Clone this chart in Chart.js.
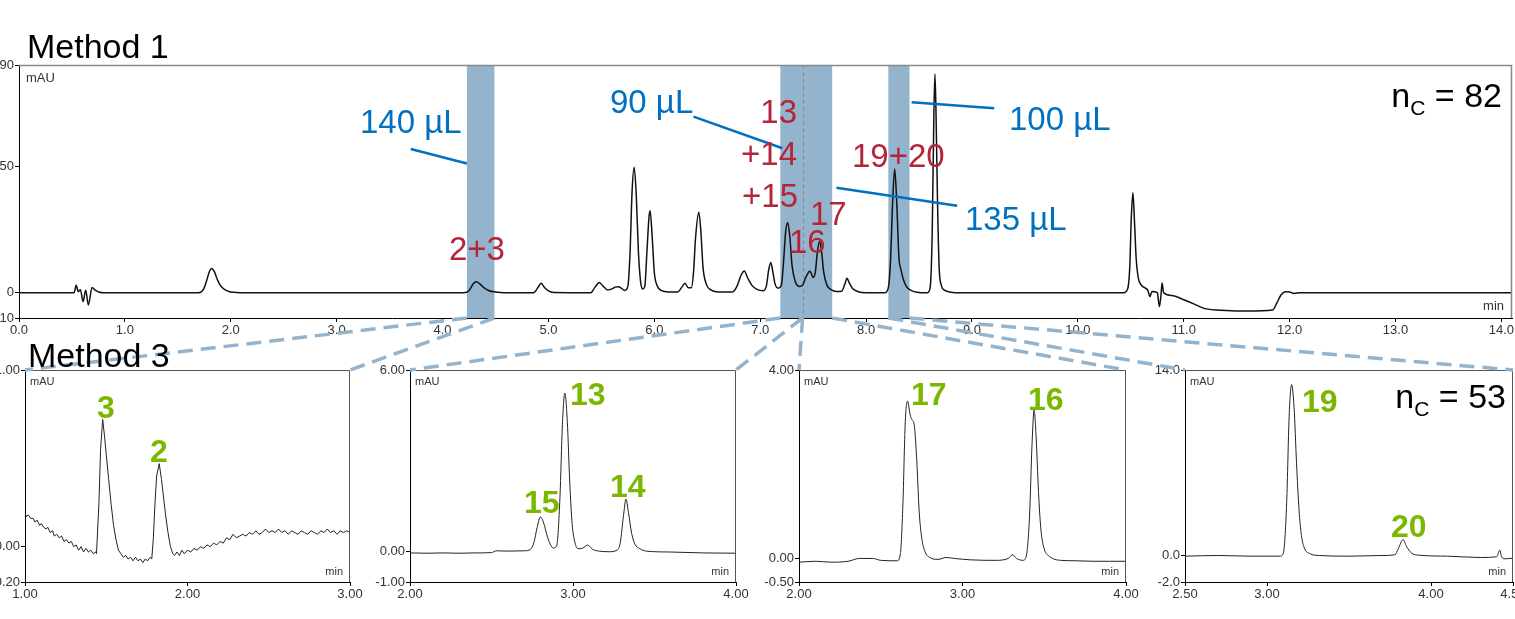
<!DOCTYPE html>
<html><head><meta charset="utf-8">
<script src="https://cdn.jsdelivr.net/npm/chart.js@4.4.1/dist/chart.umd.min.js"></script>
<style>
html,body{margin:0;padding:0;background:#fff;}
body{width:1515px;height:619px;overflow:hidden;position:relative;font-family:"Liberation Sans",Arial,sans-serif;}
.t{position:absolute;white-space:nowrap;line-height:1;z-index:10;}
#overlay{position:absolute;left:0;top:0;z-index:5;pointer-events:none;}
</style></head><body>
<canvas id="overlay" width="1515" height="619"></canvas>
<script>
// ---------------- DATA ----------------
// Method 1 chromatogram: [time (min), signal (mAU)]
const method1Trace = [
 [0,0],[0.52,0],[0.54,2.9],[0.56,0.4],[0.58,1.2],[0.605,-3.5],[0.63,1],[0.655,-4.9],[0.69,2.1],[0.72,1],[0.76,0.2],[0.8,0],
 [1.7,0],[1.74,1.2],[1.77,4.5],[1.8,8.6],[1.82,9.6],[1.845,8.3],[1.87,5.5],[1.9,3],[1.94,1.3],[1.99,0.4],[2.05,0.1],[2.15,0],
 [4.2,0],[4.25,0.8],[4.29,3.5],[4.32,4.3],[4.35,3.6],[4.39,2],[4.44,0.8],[4.5,0.3],[4.58,0],
 [4.86,0],[4.9,2],[4.93,3.7],[4.96,2.2],[5.0,0.7],[5.05,0.1],
 [5.4,0],[5.44,2.2],[5.48,4],[5.52,2.4],[5.56,1.1],[5.6,1.5],[5.63,2.2],[5.66,2.4],[5.69,1.7],[5.72,0.9],
 [5.75,2.5],[5.77,15],[5.79,40],[5.81,49.6],[5.83,38],[5.85,16],[5.87,4.5],[5.89,1.5],[5.91,2.5],[5.93,16],[5.95,30],[5.96,32.4],[5.98,22],[6.0,8],[6.03,2.5],[6.07,0.8],[6.13,0.3],
 [6.22,0.3],[6.26,2.2],[6.29,3.7],[6.32,2],[6.35,2],[6.37,8],[6.39,22],[6.42,31.8],[6.44,24],[6.46,10],[6.49,3.5],[6.53,1.2],[6.6,0.3],
 [6.74,0.3],[6.78,2.5],[6.82,7],[6.85,8.6],[6.88,6],[6.92,3],[6.97,1.3],[7.03,0.8],[7.06,3],[7.08,9],[7.1,11.9],[7.12,8],[7.14,3.5],[7.17,1.8],
 [7.2,3],[7.22,12],[7.24,24],[7.26,27.7],[7.28,22],[7.3,11],[7.33,4.5],[7.37,2.5],[7.4,3],[7.43,6],[7.46,8.3],[7.47,8.5],[7.5,6],[7.52,8],[7.54,16],[7.56,20.2],[7.58,16],[7.6,8],[7.63,3],[7.67,1.2],[7.72,0.5],
 [7.77,0.6],[7.8,3.5],[7.82,5.7],[7.84,4],[7.87,1.8],[7.92,0.5],[8.0,0],
 [8.18,0],[8.21,2],[8.23,12],[8.25,35],[8.27,48.9],[8.29,35],[8.31,14],[8.33,9],[8.35,5.5],[8.38,2.5],[8.42,1],[8.48,0.2],
 [8.58,0],[8.605,2],[8.625,25],[8.64,70],[8.65,86.4],[8.66,72],[8.675,35],[8.69,10],[8.71,3],[8.74,1],[8.8,0.2],[8.9,0],
 [10.43,0],[10.47,1.5],[10.49,10],[10.505,30],[10.52,39.5],[10.535,28],[10.55,14],[10.57,6],[10.6,3],[10.63,2],[10.66,1],[10.68,-1.5],[10.7,0.5],[10.75,0],
 [10.77,-5.5],[10.785,-1],[10.795,3.8],[10.81,0],[10.9,-1.2],[11.0,-2.8],[11.1,-4.5],[11.2,-6.3],[11.4,-7],[11.6,-7.2],[11.84,-6.8],[11.88,-4],[11.92,-0.8],[11.96,0.4],[12.0,0.3],[12.04,-0.3],[12.1,0],[14.1,0]
];
const method1XTicks = [0,1,2,3,4,5,6,7,8,9,10,11,12,13,14];
const method1YTicks = [-10,0,50,90];
// heart-cut windows (min) and the split inside the second window
const bandFrom = [4.23, 7.19, 8.21];
const bandTo   = [4.49, 7.68, 8.41];
const splitAt  = [7.40];
// time window of Method 1 sent to each Method 3 panel
const cutStarts = [4.23, 7.19, 7.40, 8.21];
const cutEnds   = [4.49, 7.40, 7.68, 8.41];
// volume call-out leader lines: [[t1, mAU1],[t2, mAU2]]
const leaders = [
 [[3.70,56.8],[4.23,51.1]],
 [[6.37,69.6],[7.21,57.1]],
 [[8.43,75.3],[9.21,72.9]],
 [[7.72,41.5],[8.86,34.4]]
];

// Method 3 panels
const panel1Trace = [
 [1.00,0.19],[1.01,0.17],[1.02,0.18],[1.035,0.16],[1.05,0.16],[1.06,0.14],[1.075,0.15],[1.09,0.12],[1.10,0.13],[1.115,0.11],[1.13,0.10],[1.14,0.11],
 [1.155,0.08],[1.17,0.09],[1.18,0.06],[1.195,0.07],[1.21,0.05],[1.225,0.06],[1.24,0.03],[1.255,0.04],[1.27,0.02],[1.285,0.03],[1.30,0.00],[1.315,0.01],
 [1.33,-0.02],[1.345,0.00],[1.36,-0.03],[1.375,-0.01],[1.39,-0.03],[1.405,-0.02],[1.42,-0.04],[1.435,-0.03],[1.44,-0.04],
 [1.455,0.25],[1.465,0.55],[1.478,0.72],[1.49,0.62],[1.50,0.52],[1.515,0.38],[1.53,0.24],[1.545,0.12],[1.56,0.04],[1.575,-0.02],
 [1.59,-0.04],[1.605,-0.06],[1.62,-0.05],[1.635,-0.07],[1.65,-0.06],[1.665,-0.08],[1.68,-0.06],[1.695,-0.08],[1.71,-0.07],[1.725,-0.09],[1.74,-0.07],[1.755,-0.08],[1.77,-0.06],[1.78,-0.07],
 [1.79,0.05],[1.80,0.25],[1.81,0.40],[1.826,0.47],[1.84,0.38],[1.85,0.30],[1.865,0.18],[1.88,0.08],[1.895,0.0],[1.91,-0.04],[1.92,-0.05],
 [1.935,-0.03],[1.95,-0.05],[1.965,-0.02],[1.98,-0.04],[2.0,-0.02],[2.02,-0.03],[2.04,-0.01],[2.06,-0.02],[2.08,0.00],[2.10,-0.01],[2.12,0.01],[2.14,0.00],
 [2.16,0.02],[2.18,0.01],[2.20,0.03],[2.22,0.02],[2.24,0.05],[2.26,0.04],[2.28,0.07],[2.30,0.05],[2.32,0.06],[2.34,0.07],[2.36,0.06],[2.38,0.08],
 [2.40,0.07],[2.42,0.09],[2.44,0.07],[2.46,0.08],[2.48,0.10],[2.50,0.08],[2.52,0.09],[2.54,0.08],[2.56,0.10],[2.58,0.08],[2.60,0.09],[2.62,0.07],
 [2.64,0.09],[2.66,0.08],[2.68,0.07],[2.70,0.09],[2.72,0.08],[2.74,0.07],[2.76,0.09],[2.78,0.08],[2.80,0.07],[2.82,0.09],[2.84,0.08],[2.86,0.10],
 [2.88,0.08],[2.90,0.09],[2.92,0.07],[2.94,0.09],[2.96,0.08],[2.98,0.09],[3.00,0.08]
];
const panel2Trace = [
 [2.0,-0.04],[2.1,-0.05],[2.2,-0.04],[2.3,-0.05],[2.4,-0.04],[2.5,-0.03],[2.53,0.03],[2.6,0.02],[2.7,0.03],[2.74,0.08],[2.76,0.3],[2.78,0.8],[2.80,1.15],
 [2.82,0.95],[2.84,0.55],[2.86,0.25],[2.88,0.12],[2.90,0.2],[2.92,1.8],[2.935,4.2],[2.95,5.24],[2.965,4.3],[2.98,2.3],[2.995,0.9],[3.01,0.35],[3.03,0.1],
 [3.06,0.12],[3.09,0.22],[3.12,0.08],[3.16,0.02],[3.22,0.0],[3.27,0.05],[3.29,0.3],[3.31,1.2],[3.325,1.74],[3.34,1.3],[3.36,0.6],[3.38,0.25],[3.41,0.1],
 [3.45,0.02],[3.6,-0.01],[3.8,-0.04],[4.0,-0.05]
];
const panel3Trace = [
 [2.0,-0.08],[2.1,-0.06],[2.2,-0.08],[2.3,-0.06],[2.37,0.0],[2.45,0.0],[2.5,-0.04],[2.6,-0.05],[2.62,0.1],[2.635,1.1],[2.65,2.9],[2.664,3.34],[2.68,3.05],
 [2.69,2.95],[2.705,2.83],[2.72,2.1],[2.735,1.0],[2.75,0.45],[2.77,0.15],[2.8,0.02],[2.85,-0.02],[2.9,0.02],[2.95,0.0],[3.05,-0.03],[3.2,-0.04],[3.28,0.0],
 [3.305,0.08],[3.33,0.0],[3.37,-0.04],[3.39,0.05],[3.41,0.9],[3.425,2.4],[3.438,3.15],[3.45,2.6],[3.465,1.4],[3.48,0.6],[3.5,0.2],[3.53,0.05],[3.6,-0.04],
 [3.7,-0.05],[3.8,-0.06],[3.9,-0.06],[4.0,-0.06]
];
const panel4Trace = [
 [2.5,-0.05],[2.7,0.0],[2.9,-0.05],[3.08,-0.05],[3.1,0.2],[3.12,4],[3.135,10.5],[3.15,12.9],[3.165,11.2],[3.18,7],[3.195,3.5],[3.21,1.5],[3.23,0.5],
 [3.26,0.15],[3.32,0.0],[3.5,-0.05],[3.7,0.0],[3.78,0.05],[3.8,0.5],[3.83,1.2],[3.85,0.7],[3.88,0.2],[3.93,0.02],[4.1,-0.05],[4.3,-0.15],[4.4,-0.1],
 [4.42,0.4],[4.43,-0.1],[4.45,-0.25],[4.5,-0.2]
];
const panel1XTicks = [1,2,3], panel1YTicks = [-0.2,0,1];
const panel2XTicks = [2,3,4], panel2YTicks = [-1,0,6];
const panel3XTicks = [2,3,4], panel3YTicks = [-0.5,0,4];
const panel4XTicks = [2.5,3,4,4.5], panel4YTicks = [-2,0,14];

// ---------------- DRAWING ----------------
const FONT = '"Liberation Sans", Arial, sans-serif';
const BAND = 'rgb(148,180,205)';

function decorPlugin(o){
  return {
    id:'decor'+Math.random().toString(36).slice(2),
    beforeDatasetsDraw(chart){
      const {ctx, chartArea:a, scales:{x}} = chart;
      ctx.save();
      if (o.bands){
        ctx.fillStyle = BAND;
        bandFrom.forEach((f,i)=>{
          const x1 = x.getPixelForValue(f), x2 = x.getPixelForValue(bandTo[i]);
          ctx.fillRect(x1, a.top, x2-x1, a.bottom-a.top);
        });
        ctx.strokeStyle = '#8a8a8a'; ctx.lineWidth = 1; ctx.setLineDash([4,3]);
        splitAt.forEach(s=>{
          const px = Math.round(x.getPixelForValue(s))+0.5;
          ctx.beginPath(); ctx.moveTo(px,a.top); ctx.lineTo(px,a.bottom); ctx.stroke();
        });
        ctx.setLineDash([]);
      }
      ctx.restore();
    },
    afterDatasetsDraw(chart){
      const {ctx, chartArea:a, scales:{x,y}} = chart;
      ctx.save();
      // top & right frame
      ctx.strokeStyle = o.frameColor; ctx.lineWidth = o.frameWidth;
      ctx.beginPath(); ctx.moveTo(a.left, a.top+0.5); ctx.lineTo(a.right-0.5, a.top+0.5); ctx.lineTo(a.right-0.5, a.bottom); ctx.stroke();
      if (o.leaders){
        ctx.strokeStyle = '#0070c0'; ctx.lineWidth = 2.5;
        leaders.forEach(l=>{
          ctx.beginPath();
          ctx.moveTo(x.getPixelForValue(l[0][0]), y.getPixelForValue(l[0][1]));
          ctx.lineTo(x.getPixelForValue(l[1][0]), y.getPixelForValue(l[1][1]));
          ctx.stroke();
        });
      }
      ctx.fillStyle = '#333';
      ctx.font = o.unitSize + 'px ' + FONT;
      ctx.textBaseline = 'alphabetic';
      ctx.textAlign = 'left';
      ctx.fillText('mAU', a.left + o.unitDx, a.top + o.unitDy);
      ctx.textAlign = 'right';
      ctx.fillText('min', a.right - o.minDx, a.bottom - o.minDy);
      ctx.restore();
    }
  };
}

function buildChart(cfg){
  const YW = cfg.yw, XH = cfg.xh, PT = 10, PB = 4, PR = cfg.pr;
  const cv = document.createElement('canvas');
  const W = YW + (cfg.area.right - cfg.area.left) + PR;
  const H = PT + (cfg.area.bottom - cfg.area.top) + XH + PB;
  cv.width = W; cv.height = H;
  cv.style.cssText = `position:absolute;left:${cfg.area.left-YW}px;top:${cfg.area.top-PT}px;width:${W}px;height:${H}px;`;
  document.body.appendChild(cv);
  const tickFont = {family: FONT, size: 13};
  return new Chart(cv, {
    type:'line',
    data:{datasets:[{
      data: cfg.trace, borderColor: cfg.lineColor, borderWidth: cfg.lineWidth,
      pointRadius:0, fill:false,
      cubicInterpolationMode: cfg.smooth ? 'monotone' : 'default', tension: 0
    }]},
    options:{
      responsive:false, animation:false, devicePixelRatio:1, events:[],
      layout:{padding:{left:0, top:PT, right:PR, bottom:PB}},
      plugins:{legend:{display:false}, tooltip:{enabled:false}},
      scales:{
        x:{
          type:'linear', min: cfg.xr[0], max: cfg.xr[1],
          afterBuildTicks: s => { s.ticks = cfg.xt.map(v=>({value:v})); },
          afterFit: s => { s.height = XH; },
          ticks:{callback: v => v.toFixed(cfg.xd), font: tickFont, color:'#333', padding:1, maxRotation:0, autoSkip:false},
          grid:{display:true, drawOnChartArea:false, drawTicks:true, tickLength:4, color:'#000'},
          border:{display:true, color:'#000', width:1}
        },
        y:{
          type:'linear', min: cfg.yr[0], max: cfg.yr[1],
          afterBuildTicks: s => { s.ticks = cfg.yt.map(v=>({value:v})); },
          afterFit: s => { s.width = YW; },
          ticks:{callback: v => v.toFixed(cfg.yd), font: tickFont, color:'#333', padding:1, autoSkip:false},
          grid:{display:true, drawOnChartArea:false, drawTicks:true, tickLength:4, color:'#000'},
          border:{display:true, color:'#000', width:1}
        }
      }
    },
    plugins:[decorPlugin(cfg.decor)]
  });
}

const topChart = buildChart({
  area:{left:19, right:1512, top:65, bottom:318}, yw:69, xh:30, pr:58,
  trace: method1Trace, xr:[0,14.1], yr:[-10,90], xt: method1XTicks, yt: method1YTicks, xd:1, yd:0,
  lineColor:'#111', lineWidth:1.5, smooth:true,
  decor:{bands:true, leaders:true, frameColor:'#888', frameWidth:1.5, unitSize:13, unitDx:7, unitDy:17, minDx:8, minDy:8}
});
const bottomDecor = {bands:false, leaders:false, frameColor:'#555', frameWidth:1, unitSize:11, unitDx:5, unitDy:15, minDx:7, minDy:7};
const panels = [
  buildChart({area:{left:25, right:350, top:370, bottom:582}, yw:50, xh:28, pr:30, trace:panel1Trace, xr:[1,3], yr:[-0.2,1], xt:panel1XTicks, yt:panel1YTicks, xd:2, yd:2, lineColor:'#222', lineWidth:1, smooth:false, decor:bottomDecor}),
  buildChart({area:{left:410, right:736, top:370, bottom:582}, yw:50, xh:28, pr:30, trace:panel2Trace, xr:[2,4], yr:[-1,6], xt:panel2XTicks, yt:panel2YTicks, xd:2, yd:2, lineColor:'#222', lineWidth:1, smooth:true, decor:bottomDecor}),
  buildChart({area:{left:799, right:1126, top:370, bottom:582}, yw:50, xh:28, pr:30, trace:panel3Trace, xr:[2,4], yr:[-0.5,4], xt:panel3XTicks, yt:panel3YTicks, xd:2, yd:2, lineColor:'#222', lineWidth:1, smooth:true, decor:bottomDecor}),
  buildChart({area:{left:1185, right:1513, top:370, bottom:582}, yw:50, xh:28, pr:30, trace:panel4Trace, xr:[2.5,4.5], yr:[-2,14], xt:panel4XTicks, yt:panel4YTicks, xd:2, yd:1, lineColor:'#222', lineWidth:1, smooth:true, decor:bottomDecor})
];
// panel 4 x labels: 2.50 3.00 4.00 4.50
panels[3].options.scales.x.ticks.callback = v => v.toFixed(2);
panels[3].update('none');

// connector lines from heart-cut windows to Method 3 panels
(function(){
  const ov = document.getElementById('overlay').getContext('2d');
  const off = c => ({x: parseFloat(c.canvas.style.left), y: parseFloat(c.canvas.style.top)});
  const to = off(topChart);
  const yStart = to.y + topChart.chartArea.bottom;
  ov.strokeStyle = BAND; ov.lineWidth = 3.5; ov.setLineDash([15,8]);
  panels.forEach((p,i)=>{
    const po = off(p), a = p.chartArea;
    const xs = to.x + topChart.scales.x.getPixelForValue(cutStarts[i]);
    const xe = to.x + topChart.scales.x.getPixelForValue(cutEnds[i]);
    ov.beginPath(); ov.moveTo(xs, yStart); ov.lineTo(po.x + a.left, po.y + a.top); ov.stroke();
    ov.beginPath(); ov.moveTo(xe, yStart); ov.lineTo(po.x + a.right, po.y + a.top); ov.stroke();
  });
})();

// text annotations
function addText(html, x, base, size, color, weight, align){
  const d = document.createElement('div'); d.className = 't';
  d.innerHTML = html;
  d.style.fontSize = size + 'px'; d.style.color = color; d.style.fontWeight = weight || 'normal';
  d.style.top = (base - 0.8465*size) + 'px';
  d.style.left = x + 'px';
  if (align === 'right') d.style.transform = 'translateX(-100%)';
  document.body.appendChild(d);
}
const SUB = '<span style="font-size:21px;position:relative;top:8px;">C</span>';
addText('Method 1', 27, 58, 34, '#000');
addText('Method 3', 28, 367, 34, '#000');
addText('n' + SUB + ' = 82', 1502, 107, 34, '#000', 'normal', 'right');
addText('n' + SUB + ' = 53', 1506, 408, 34, '#000', 'normal', 'right');
const BLUE = '#0070c0', RED = '#b5253a', GREEN = '#7ab800';
addText('140 µL', 360, 133, 33, BLUE);
addText('90 µL', 610, 113, 33, BLUE);
addText('100 µL', 1009, 130, 33, BLUE);
addText('135 µL', 965, 230, 33, BLUE);
addText('13', 797, 123, 33, RED, 'normal', 'right');
addText('+14', 797, 165, 33, RED, 'normal', 'right');
addText('+15', 798, 207, 33, RED, 'normal', 'right');
addText('17', 810, 225, 33, RED);
addText('16', 789, 253, 33, RED);
addText('19+20', 852, 167, 33, RED);
addText('2+3', 449, 260, 33, RED);
addText('3', 97, 418, 32, GREEN, 'bold');
addText('2', 150, 462, 32, GREEN, 'bold');
addText('13', 570, 405, 32, GREEN, 'bold');
addText('15', 524, 513, 32, GREEN, 'bold');
addText('14', 610, 497, 32, GREEN, 'bold');
addText('17', 911, 405, 32, GREEN, 'bold');
addText('16', 1028, 410, 32, GREEN, 'bold');
addText('19', 1302, 412, 32, GREEN, 'bold');
addText('20', 1391, 537, 32, GREEN, 'bold');
</script>
</body></html>
